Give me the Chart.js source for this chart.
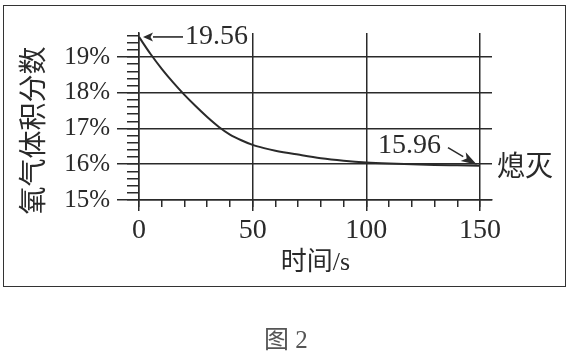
<!DOCTYPE html>
<html>
<head>
<meta charset="utf-8">
<script src="https://cdn.jsdelivr.net/npm/chart.js@4/dist/chart.umd.min.js"></script>
<style>
  html, body { margin: 0; padding: 0; background: #fff; }
  #wrap { position: relative; width: 572px; height: 356px; overflow: hidden; }
  #c { position: absolute; left: 0; top: 0; }
  #frame { position: absolute; left: 3px; top: 5px; width: 563px; height: 282px; box-sizing: border-box; border: 1.5px solid #333; pointer-events: none; }
  #caption { position: absolute; left: 0; top: 325px; width: 572px; text-align: center; font: 25px/30px "Liberation Serif", "Noto Sans CJK SC", serif; color: #555; }
</style>
</head>
<body>
<div id="wrap">
  <canvas id="c" width="572" height="356"></canvas>
  <div id="frame"></div>
  <div id="caption">图 2</div>
</div>
<script>
// ---- data ----
const times = [0, 5, 10, 15, 20, 25, 30, 35, 40, 45, 50, 55, 60, 70, 80, 90, 100, 110, 120, 130, 140, 150];
const oxygenPct = [19.56, 19.09, 18.67, 18.29, 17.94, 17.62, 17.32, 17.05, 16.83, 16.67, 16.54, 16.45, 16.38, 16.27, 16.17, 16.10, 16.05, 16.02, 16.00, 15.98, 15.97, 15.96];
const xTickValues = [0, 50, 100, 150];
const yTickValues = [15, 16, 17, 18, 19];
const xTitle = '时间/s';
const yTitle = '氧气体积分数';
const startLabel = '19.56';
const endLabel = '15.96';
const endNote = '熄灭';

const INK = '#2a2a2a';
const FONT = '"Liberation Serif", "Noto Sans CJK SC", serif';
const CJK = '"Noto Sans CJK SC", "Liberation Serif", sans-serif';

Chart.defaults.font.family = FONT;
Chart.defaults.color = INK;

function arrow(ctx, x1, y1, x2, y2, len, half) {
  const a = Math.atan2(y2 - y1, x2 - x1);
  const bx = x2 - len * Math.cos(a), by = y2 - len * Math.sin(a);
  ctx.beginPath();
  ctx.moveTo(x1, y1);
  ctx.lineTo(bx, by);
  ctx.stroke();
  ctx.beginPath();
  ctx.moveTo(x2, y2);
  ctx.lineTo(bx + half * Math.sin(a), by - half * Math.cos(a));
  ctx.lineTo(x2 - len * 0.75 * Math.cos(a), y2 - len * 0.75 * Math.sin(a));
  ctx.lineTo(bx - half * Math.sin(a), by + half * Math.cos(a));
  ctx.closePath();
  ctx.fill();
}

const annotate = {
  id: 'annotate',
  afterDatasetsDraw(chart) {
    const { ctx, scales: { x, y } } = chart;
    const n = times.length - 1;
    const ax = x.getPixelForValue(times[0]), ay = y.getPixelForValue(oxygenPct[0]);
    const bx = x.getPixelForValue(times[n]), by = y.getPixelForValue(oxygenPct[n]);
    ctx.save();
    ctx.strokeStyle = INK;
    ctx.fillStyle = INK;
    ctx.lineWidth = 1.6;
    arrow(ctx, ax + 44, ay, ax + 4, ay, 10, 4.5);
    arrow(ctx, bx - 32, by - 18, bx - 3, by - 1, 16, 5);
    ctx.textBaseline = 'middle';
    ctx.textAlign = 'left';
    ctx.font = '28px ' + FONT;
    ctx.fillText(startLabel, ax + 46, ay);
    ctx.fillText(endLabel, bx - 102, by - 20);
    ctx.font = '28px ' + CJK;
    ctx.fillText(endNote, bx + 17, by);
    ctx.restore();
  }
};

new Chart(document.getElementById('c'), {
  type: 'line',
  data: {
    datasets: [{
      data: times.map((t, i) => ({ x: t, y: oxygenPct[i] })),
      borderColor: INK,
      borderWidth: 2,
      pointRadius: 0,
      cubicInterpolationMode: 'monotone',
      fill: false,
      xAxisID: 'x',
      yAxisID: 'y'
    }]
  },
  options: {
    responsive: false,
    animation: false,
    events: [],
    layout: { padding: { top: 33, right: 80, bottom: 56, left: 0 } },
    plugins: { legend: { display: false }, tooltip: { enabled: false } },
    scales: {
      xMinor: {
        type: 'linear', position: 'bottom', min: 0, max: 155.28, weight: 0,
        afterFit: s => { s.height = 0; },
        ticks: { display: false, stepSize: 10, includeBounds: false },
        grid: { drawOnChartArea: false, tickLength: 7, color: INK, lineWidth: 1.5 },
        border: { display: false }
      },
      x: {
        type: 'linear', position: 'bottom', min: 0, max: 155.28, weight: 1,
        afterBuildTicks: s => { s.ticks = xTickValues.map(v => ({ value: v })); },
        afterFit: s => { s.height = 100; },
        ticks: { font: { size: 28 }, color: INK, padding: 3, maxRotation: 0, autoSkip: false },
        grid: { color: INK, lineWidth: 1.5, tickLength: 11 },
        border: { display: true, color: INK, width: 1.5 },
        title: { display: true, text: xTitle, color: INK, font: { size: 26 }, padding: { top: 0, bottom: 21 } }
      },
      yMinor: {
        type: 'linear', position: 'left', min: 15, max: 19.67, weight: 0,
        afterFit: s => { s.width = 0; },
        ticks: { display: false, stepSize: 0.2, includeBounds: false },
        grid: { drawOnChartArea: false, tickLength: 12, color: INK, lineWidth: 1.5 },
        border: { display: false }
      },
      y: {
        type: 'linear', position: 'left', min: 15, max: 19.67, weight: 1,
        afterBuildTicks: s => { s.ticks = yTickValues.map(v => ({ value: v })); },
        afterFit: s => { s.width = 139; },
        ticks: { font: { size: 25 }, color: INK, padding: 7, callback: v => v + '%' },
        grid: { color: INK, lineWidth: 1.5, tickLength: 22 },
        border: { display: true, color: INK, width: 1.5 },
        title: { display: true, text: yTitle + '　', color: INK, font: { size: 28, family: CJK }, padding: { top: 16, bottom: 0 } }
      }
    }
  },
  plugins: [annotate]
});
</script>
</body>
</html>
